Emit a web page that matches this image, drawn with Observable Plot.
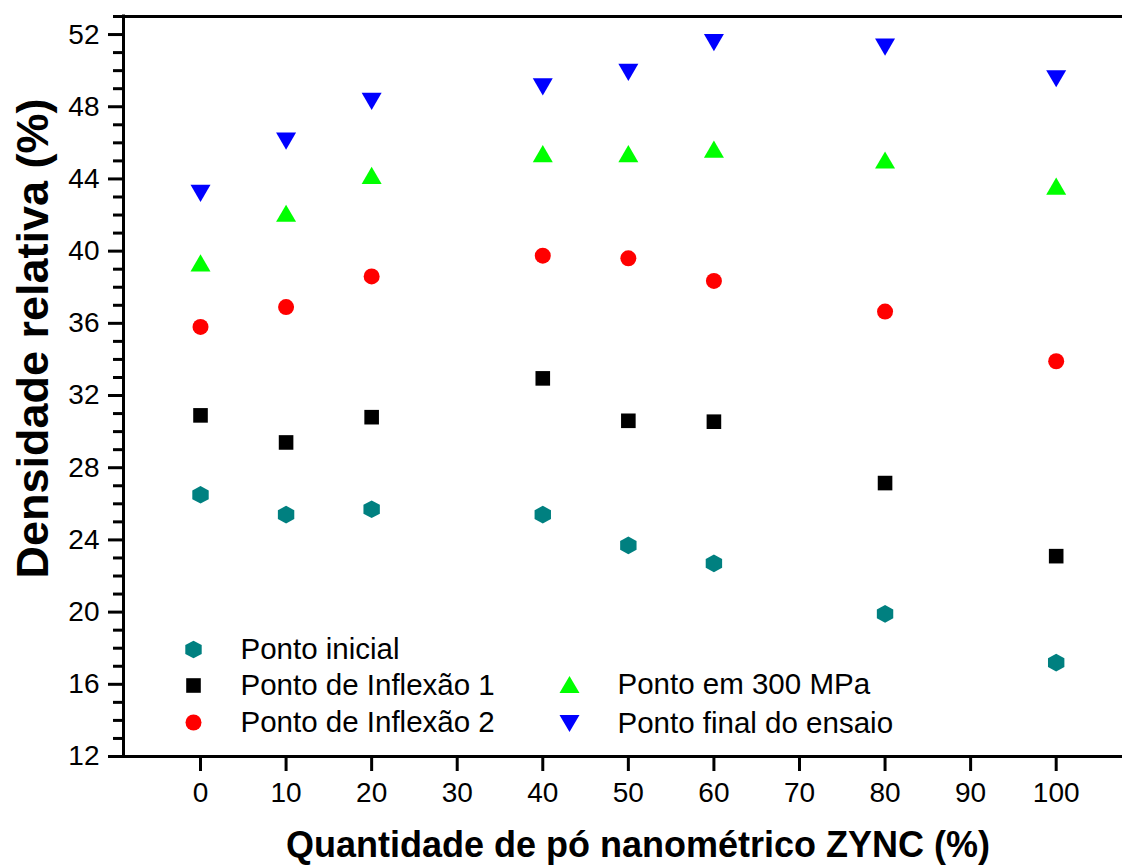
<!DOCTYPE html>
<html><head><meta charset="utf-8">
<script src="https://cdn.jsdelivr.net/npm/d3@7"></script>
<script src="https://cdn.jsdelivr.net/npm/@observablehq/plot@0.6"></script>
<style>body{margin:0;background:#fff;}</style>
</head><body><div id="chart"></div>
<script>
// ---- data ----
const quantidade = [0, 10, 20, 40, 50, 60, 80, 100];
const pontoInicial = [26.5, 25.4, 25.7, 25.4, 23.7, 22.7, 19.9, 17.2];
const pontoInflexao1 = [30.9, 29.4, 30.8, 32.95, 30.6, 30.55, 27.15, 23.1];
const pontoInflexao2 = [35.8, 36.9, 38.6, 39.75, 39.6, 38.35, 36.65, 33.9];
const ponto300MPa = [39.35, 42.1, 44.2, 45.4, 45.4, 45.65, 45.05, 43.6];
const pontoFinal = [43.2, 46.1, 48.3, 49.1, 49.9, 51.55, 51.3, 49.55];
const seriesNames = ["Ponto inicial", "Ponto de Inflexão 1", "Ponto de Inflexão 2", "Ponto em 300 MPa", "Ponto final do ensaio"];
const xTicks = [0, 10, 20, 30, 40, 50, 60, 70, 80, 90, 100];
const yMajorTicks = [12, 16, 20, 24, 28, 32, 36, 40, 44, 48, 52];
const yMinorTicks = [13,14,15,17,18,19,21,22,23,25,26,27,29,30,31,33,34,35,37,38,39,41,42,43,45,46,47,49,50,51,53];
const xDomain = [-9, 107.75];
const yDomain = [12, 53];
const xLabel = "Quantidade de pó nanométrico ZYNC (%)";
const yLabel = "Densidade relativa (%)";

// ---- symbols (fixed pixel sizes) ----
const symHex = {draw(c){const rx=8.2, ry=8.8; c.moveTo(0,-ry); c.lineTo(rx,-ry/2); c.lineTo(rx,ry/2); c.lineTo(0,ry); c.lineTo(-rx,ry/2); c.lineTo(-rx,-ry/2); c.closePath();}};
const symSquare = {draw(c){const h=7.3; c.rect(-h,-h,2*h,2*h);}};
const symCircle = {draw(c){c.moveTo(8,0); c.arc(0,0,8,0,2*Math.PI); c.closePath();}};
const symUp = {draw(c){c.moveTo(0,-8.6); c.lineTo(10,8.6); c.lineTo(-10,8.6); c.closePath();}};
const symDown = {draw(c){c.moveTo(0,8.6); c.lineTo(10,-8.6); c.lineTo(-10,-8.6); c.closePath();}};

const seriesValues = [pontoInicial, pontoInflexao1, pontoInflexao2, ponto300MPa, pontoFinal];
const seriesColors = ["#008080", "#000000", "#ff0000", "#00ff00", "#0000ff"];
const seriesSymbols = [symHex, symSquare, symCircle, symUp, symDown];

const rows = seriesValues.map((vals) => quantidade.map((q, i) => ({q, v: vals[i]})));

// legend layout (pixel offsets from frame top-left)
const legendPos = [
  {dx: 70, dy: 633, tx: 117},
  {dx: 70, dy: 669, tx: 117},
  {dx: 70, dy: 706, tx: 117},
  {dx: 446, dy: 668, tx: 494},
  {dx: 446, dy: 707, tx: 494}
];

const marks = [];
marks.push(Plot.axisY(yMinorTicks, {tickSize: 10, strokeWidth: 3, tickFormat: () => "", label: null}));
marks.push(Plot.axisY(yMajorTicks, {tickSize: 15, tickPadding: 9, strokeWidth: 3, fontSize: 28, label: null}));
marks.push(Plot.axisX(xTicks, {tickSize: 15, tickPadding: 11, strokeWidth: 3, fontSize: 28, label: null}));
marks.push(Plot.ruleX([xDomain[0]], {strokeWidth: 3, strokeLinecap: "square"}));
marks.push(Plot.ruleY([yDomain[0], yDomain[1]], {strokeWidth: 3, strokeLinecap: "square"}));
rows.forEach((data, s) => {
  marks.push(Plot.dot(data, {x: "q", y: "v", symbol: seriesSymbols[s], fill: seriesColors[s], stroke: null, r: 8}));
});
seriesNames.forEach((name, s) => {
  const p = legendPos[s];
  marks.push(Plot.dot([name], {frameAnchor: "top-left", dx: p.dx, dy: p.dy, symbol: seriesSymbols[s], fill: seriesColors[s], stroke: null, r: 8}));
  marks.push(Plot.text([name], {frameAnchor: "top-left", dx: p.tx, dy: p.dy, text: d => d, textAnchor: "start", lineAnchor: "middle", fontSize: 29.5}));
});
marks.push(Plot.text([xLabel], {frameAnchor: "bottom", dx: 15, dy: 89, text: d => d, textAnchor: "middle", lineAnchor: "middle", fontSize: 36, fontWeight: "bold"}));
marks.push(Plot.text([yLabel], {frameAnchor: "left", dx: -90, dy: -48, rotate: -90, text: d => d, textAnchor: "middle", lineAnchor: "middle", fontSize: 45, fontWeight: "bold"}));

const chart = Plot.plot({
  width: 1122,
  height: 865,
  marginLeft: 123,
  marginRight: 0,
  marginTop: 16,
  marginBottom: 109,
  x: {domain: xDomain},
  y: {domain: yDomain},
  style: {fontFamily: "'Liberation Sans', Arial, sans-serif", color: "black", background: "white", overflow: "visible"},
  marks
});
document.getElementById("chart").appendChild(chart);
</script>
</body></html>
